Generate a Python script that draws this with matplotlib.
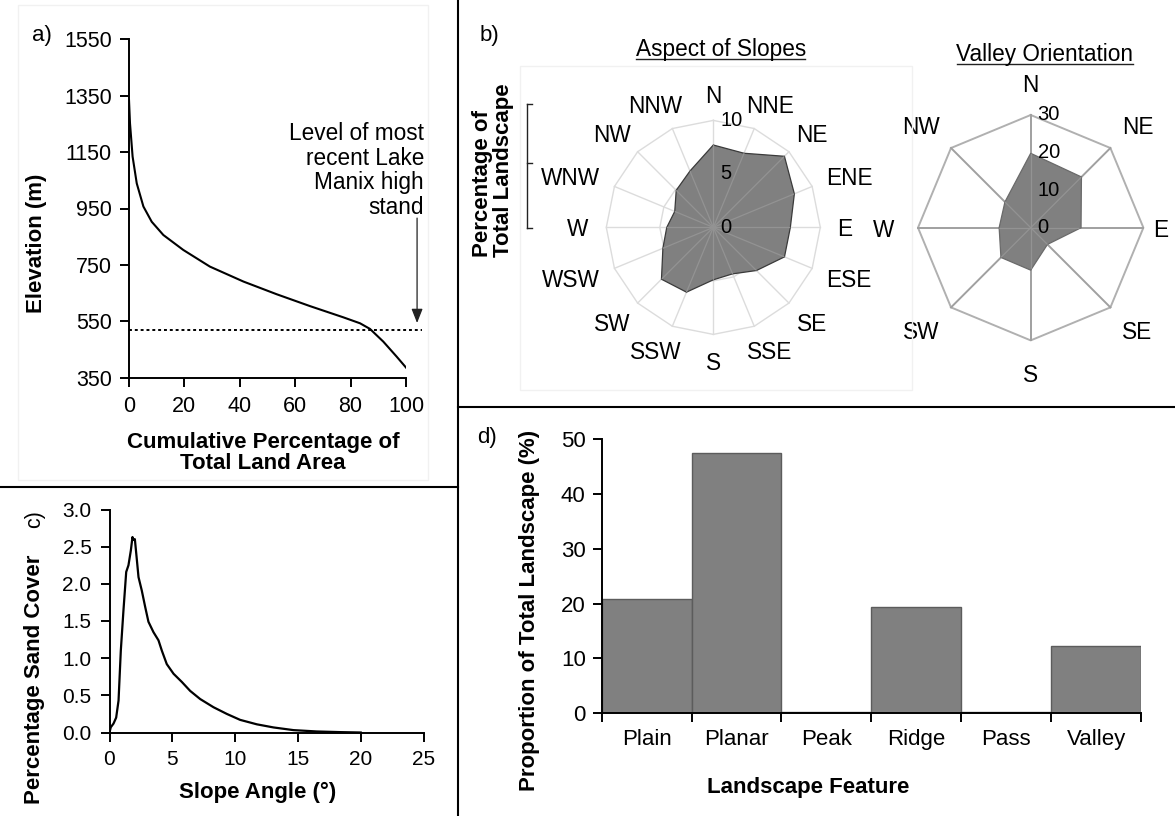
import numpy as np
import matplotlib
matplotlib.use("Agg")
import matplotlib.pyplot as plt
from matplotlib.lines import Line2D
from matplotlib.patches import Rectangle
from matplotlib.textpath import TextPath
from matplotlib.font_manager import FontProperties

plt.rcParams["font.family"] = ["Liberation Sans", "DejaVu Sans"]
plt.rcParams["axes.linewidth"] = 1.4

# ---------------- data ----------------
# a) hypsometric curve
hyp_pct = [0, 0.15, 0.36, 1.3, 2.8, 5.2, 8.2, 12.4, 19.6, 29.2, 41.3, 53.3,
           65.3, 77.4, 83.4, 87.0, 91.8, 96.6, 100]
hyp_elev = [1335, 1300, 1252, 1134, 1039, 957, 903, 856, 803, 744, 691, 646,
            604, 564, 543, 523, 478, 425, 386]
lake_level = 520
elev_ticks = [350, 550, 750, 950, 1150, 1350, 1550]
pct_ticks = [0, 20, 40, 60, 80, 100]

# b) aspect of slopes (16 directions) and valley orientation (8 directions)
aspect_dirs = ["N", "NNE", "NE", "ENE", "E", "ESE", "SE", "SSE",
               "S", "SSW", "SW", "WSW", "W", "WNW", "NW", "NNW"]
aspect_vals = [7.7, 7.5, 9.4, 8.2, 7.2, 7.2, 5.7, 4.7,
               4.9, 6.55, 6.85, 5.1, 4.35, 3.9, 4.9, 5.7]
aspect_rings = [5, 10]
aspect_rlabels = [0, 5, 10]

valley_dirs = ["N", "NE", "E", "SE", "S", "SW", "W", "NW"]
valley_vals = [19.8, 19.1, 13.4, 6.3, 11.3, 11.2, 8.4, 9.7]
valley_rings = [30]
valley_rlabels = [0, 10, 20, 30]

# c) sand cover against slope angle
slope_deg = [0, 0.1, 0.32, 0.53, 0.72, 0.9, 1.11, 1.33, 1.51, 1.7, 1.83, 1.91,
             2.02, 2.18, 2.31, 2.57, 2.84, 3.1, 3.5, 3.9, 4.17, 4.56, 5.1,
             5.76, 6.42, 7.22, 8.28, 9.34, 10.4, 11.73, 13.06, 14.65, 16.5,
             18.4, 20.0]
sand_pct = [0, 0.07, 0.12, 0.2, 0.43, 1.1, 1.64, 2.16, 2.25, 2.45, 2.63, 2.59,
            2.6, 2.32, 2.09, 1.91, 1.69, 1.49, 1.35, 1.24, 1.1, 0.92, 0.79,
            0.68, 0.56, 0.45, 0.34, 0.25, 0.17, 0.11, 0.068, 0.032, 0.014,
            0.005, 0.0]
slope_ticks = [0, 5, 10, 15, 20, 25]
sand_ticks = [0.0, 0.5, 1.0, 1.5, 2.0, 2.5, 3.0]

# d) landscape features
features = ["Plain", "Planar", "Peak", "Ridge", "Pass", "Valley"]
feature_pct = [20.8, 47.45, 0.3, 19.4, 0.18, 12.27]
prop_ticks = [0, 10, 20, 30, 40, 50]

# ---------------- layout helpers ----------------
W, H = 1175, 816
PT_PER_PX = 72 / 100
fig = plt.figure(figsize=(W / 100, H / 100), dpi=100)
label_font = FontProperties(family="Liberation Sans")


def px_rect(x0, y0, x1, y1):
    """Pixel box (origin top-left) to figure-fraction rect."""
    return [x0 / W, 1 - y1 / H, (x1 - x0) / W, (y1 - y0) / H]


def fx(x):
    return x / W


def fy(y):
    return 1 - y / H


def fig_text(x, y, s, **kw):
    return fig.text(fx(x), fy(y), s, **kw)


def fig_line(xs, ys, **kw):
    fig.add_artist(Line2D([fx(v) for v in xs], [fy(v) for v in ys], **kw))


def text_width_px(s, size):
    return TextPath((0, 0), s, size=size, prop=label_font).get_extents().width / PT_PER_PX


def underlined_title(xc, y_base, s, size):
    fig_text(xc, y_base, s, ha="center", va="baseline", fontsize=size)
    w_px = text_width_px(s, size)
    fig_line([xc - w_px / 2, xc + w_px / 2], [y_base + 3.3] * 2, color="#222222", lw=1.0)


def faint_box(x0, y0, x1, y1):
    fig.add_artist(Rectangle((fx(x0), fy(y1)), fx(x1) - fx(x0), fy(y0) - fy(y1),
                             transform=fig.transFigure, fill=False,
                             edgecolor="#f1f1f1", lw=1))


faint_box(18, 5, 428, 480)
faint_box(520, 66, 912, 390)

# panel dividers
fig_line([457.5, 457.5], [0, 816], color="black", lw=1.5)
fig_line([0, 457.5], [486.5, 486.5], color="black", lw=1.5)
fig_line([457.5, 1175], [407, 407], color="black", lw=1.5)


def style_xy(ax, size, xpad, ypad, length=6.5):
    for s in ("top", "right"):
        ax.spines[s].set_visible(False)
    ax.tick_params(direction="out", length=length, width=1.4, labelsize=size)
    ax.tick_params(axis="x", pad=xpad)
    ax.tick_params(axis="y", pad=ypad)


# ---------------- a) hypsometry ----------------
axa = fig.add_axes(px_rect(129, 39.3, 406, 377.7))
axa.plot(hyp_pct, hyp_elev, color="black", lw=1.5, solid_joinstyle="round")
axa.plot([0, 105.8], [lake_level, lake_level], color="black", lw=1.4,
         linestyle=(0, (1.5, 1.5)), clip_on=False)
axa.set_xlim(0, 100)
axa.set_ylim(350, 1550)
axa.set_xticks(pct_ticks)
axa.set_yticks(elev_ticks)
style_xy(axa, 15.5, 6.5, 5.8)
axa.text(106.5, 1256, "Level of most\nrecent Lake\nManix high\nstand",
         ha="right", va="top", fontsize=16.3, linespacing=1.09, clip_on=False)
axa.annotate("", xy=(104, lake_level + 24), xytext=(104, 916),
             arrowprops=dict(arrowstyle="-|>,head_length=0.43,head_width=0.17",
                             color="#222222", lw=0.9, mutation_scale=20,
                             shrinkA=0, shrinkB=0),
             annotation_clip=False)
fig_text(42, 36, "a)", ha="center", va="center", fontsize=16)
fig_text(36.7, 243, "Elevation (m)", rotation=90, ha="center", va="center",
         fontsize=16, fontweight="bold")
fig_text(263, 453, "Cumulative Percentage of\nTotal Land Area", ha="center",
         va="center", fontsize=16, fontweight="bold", linespacing=0.95)


# ---------------- b) radar charts ----------------
def radar(center_px, radius_px, dirs, vals, rings, rlabels, rmax, grid_col,
          spoke_col, grid_lw, edge_col, label_gap_px):
    cx, cy = center_px
    ax = fig.add_axes(px_rect(cx - radius_px, cy - radius_px,
                              cx + radius_px, cy + radius_px), projection="polar")
    ax.set_theta_zero_location("N")
    ax.set_theta_direction(-1)
    ax.set_ylim(0, rmax)
    ax.set_axis_off()
    n = len(dirs)
    theta = np.deg2rad(np.arange(n) * 360.0 / n)
    closed = np.append(theta, theta[0])
    for r in rings:
        ax.plot(closed, [r] * (n + 1), color=grid_col, lw=grid_lw, clip_on=False,
                zorder=1)
    for t in theta:
        ax.plot([t, t], [0, rmax], color=spoke_col, lw=grid_lw, clip_on=False,
                zorder=1)
    v = np.append(vals, vals[0])
    poly = ax.fill(closed, v, facecolor="#808080", edgecolor=edge_col, lw=0.9,
                   zorder=2)[0]
    # spokes faintly visible through the filled area
    for t in theta:
        ln, = ax.plot([t, t], [0, rmax], color="#939393", lw=0.9, zorder=3)
        ln.set_clip_path(poly)
    # radial scale labels along the north spoke
    for r in rlabels:
        ax.annotate(str(r), xy=(0, r), xytext=(5, 0), textcoords="offset points",
                    ha="left", va="center", fontsize=14.5, annotation_clip=False,
                    zorder=4)
    # direction labels: nearest edge of each label sits a fixed gap from centre
    fs = 16.3
    h_px = 0.72 * fs / PT_PER_PX
    for t, lab in zip(theta, dirs):
        w_px = text_width_px(lab, fs)
        dx = (label_gap_px + 0.5 * w_px) * np.sin(t)
        dy = (label_gap_px + 0.5 * h_px) * np.cos(t)
        # keep labels inside the figure
        dx = min(dx, W - 8 - cx - 0.5 * w_px)
        ax.annotate(lab, xy=(0, 0), xytext=(dx * PT_PER_PX, dy * PT_PER_PX),
                    textcoords="offset points", ha="center",
                    va="center_baseline", fontsize=fs, annotation_clip=False)
    return ax


radar((713.3, 227.4), 107.0, aspect_dirs, aspect_vals, aspect_rings,
      aspect_rlabels, 10, "#dcdcdc", "#dcdcdc", 1.0, "#3a3a3a", 125)
underlined_title(720.7, 56, "Aspect of Slopes", 16.3)

radar((1030.7, 227.7), 112.7, valley_dirs, valley_vals, valley_rings,
      valley_rlabels, 30, "#b0b0b0", "#a0a0a0", 1.4, "#6a6a6a", 137)
underlined_title(1045, 60.5, "Valley Orientation", 16.3)

fig_text(489, 35, "b)", ha="center", va="center", fontsize=16)
fig_text(493, 257, "Percentage of\nTotal Landscape", rotation=90, ha="center",
         va="bottom", multialignment="left", fontsize=16, fontweight="bold",
         linespacing=1.0)
# bracket beside the percentage label
bx = 526.7
fig_line([bx, bx], [104.3, 228.3], color="#222222", lw=1)
for yb in (104.3, 163.3, 228.3):
    fig_line([bx, bx + 5], [yb, yb], color="#222222", lw=1)

# ---------------- c) sand cover ----------------
axc = fig.add_axes(px_rect(109.5, 509.5, 423.5, 732.5))
axc.plot(slope_deg, sand_pct, color="black", lw=1.6, solid_joinstyle="round")
axc.set_xlim(0, 25)
axc.set_ylim(0, 3)
axc.set_xticks(slope_ticks)
axc.set_yticks(sand_ticks)
axc.set_yticklabels([f"{t:.1f}" for t in sand_ticks])
style_xy(axc, 15, 6.0, 6.5)
fig_text(35, 519, "c)", rotation=90, ha="center", va="center", fontsize=15.5)
fig_text(35, 679, "Percentage Sand Cover", rotation=90, ha="center", va="center",
         fontsize=16, fontweight="bold")
fig_text(258, 792, "Slope Angle (°)", ha="center", va="center", fontsize=16,
         fontweight="bold")

# ---------------- d) landscape features ----------------
axd = fig.add_axes(px_rect(601.7, 439, 1141, 713.3))
x = np.arange(len(features))
axd.bar(x, feature_pct, width=1.0, color="#808080", edgecolor="#5c5c5c", lw=1,
        zorder=2)
axd.set_xlim(-0.5, len(features) - 0.5)
axd.set_ylim(0, 50)
axd.set_yticks(prop_ticks)
axd.set_xticks(np.arange(-0.5, len(features), 1.0))
axd.set_xticklabels([])
axd.set_xticks(x, minor=True)
axd.set_xticklabels(features, minor=True)
style_xy(axd, 16, 4.8, 4.8, length=6.7)
axd.tick_params(axis="x", which="minor", length=0, pad=11.5, labelsize=16)
for s in ("left", "bottom"):
    axd.spines[s].set_zorder(3)
fig_text(487, 437, "d)", ha="center", va="center", fontsize=16)
fig_text(530, 610, "Proportion of Total Landscape (%)", rotation=90, ha="center",
         va="center", fontsize=16, fontweight="bold")
fig_text(808, 788, "Landscape Feature", ha="center", va="center", fontsize=16,
         fontweight="bold")

fig.savefig("out.png", dpi=100)
